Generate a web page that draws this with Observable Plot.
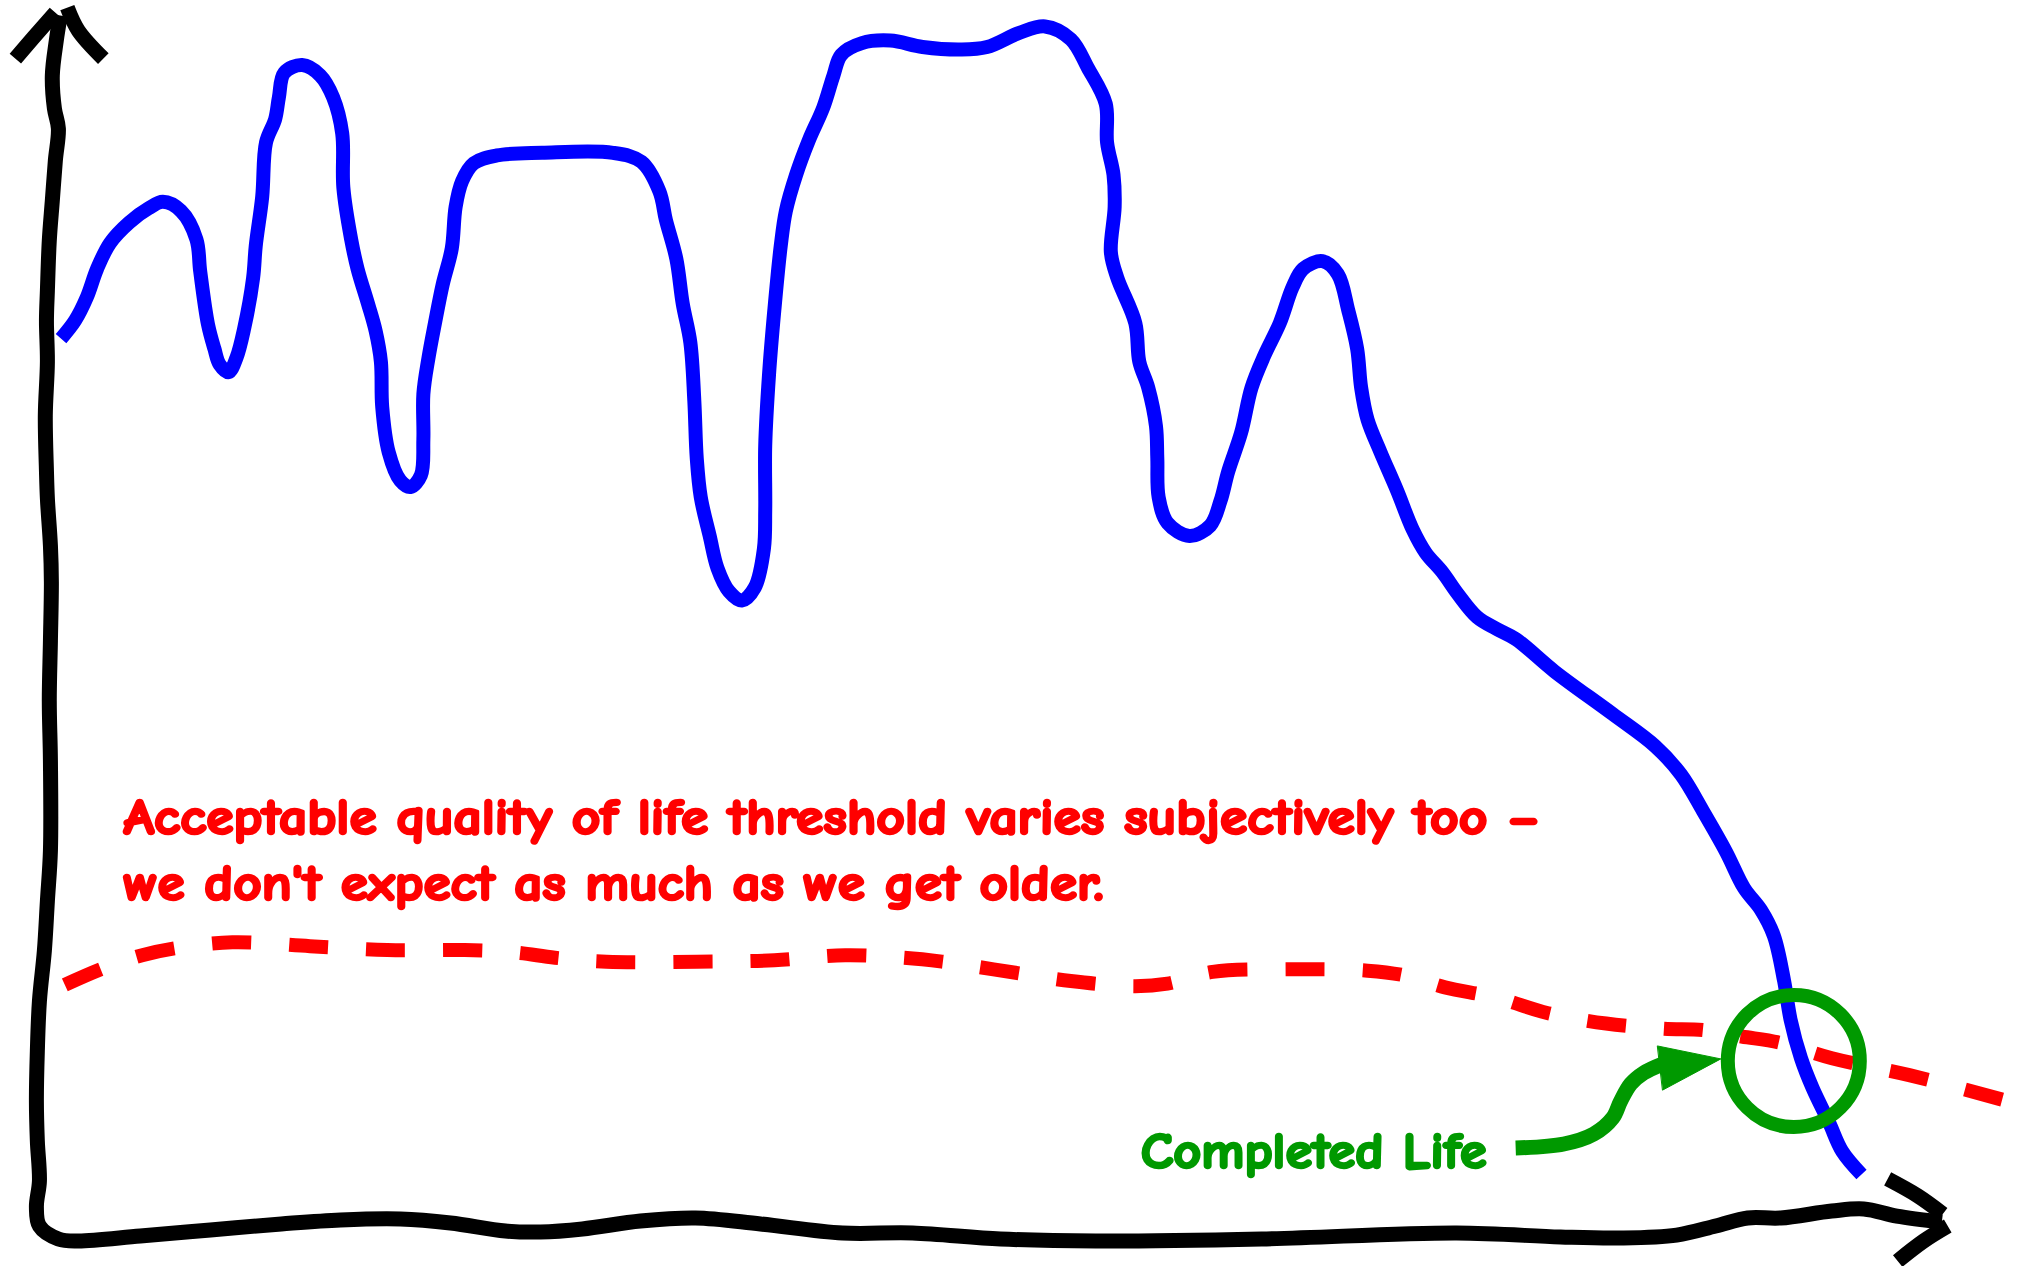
<!DOCTYPE html>
<html>
<head>
<meta charset="utf-8">
<script src="https://cdn.jsdelivr.net/npm/d3@7"></script>
<script src="https://cdn.jsdelivr.net/npm/@observablehq/plot@0.6"></script>
<style>
  html, body { margin: 0; padding: 0; background: #ffffff; }
  #chart svg { display: block; background: #ffffff; }
</style>
</head>
<body>
<div id="chart"></div>
<script>
// ---- Data (x = age, y = quality of life; both on a 0–100 sketch scale) ----

// Quality of life over a lifetime (blue)
const lifeAge = [0.82,1.56,2.18,2.72,3.40,4.42,5.44,6.19,7.14,7.96,8.16,8.57,8.91,9.18,9.66,10.07,10.48,10.95,11.09,11.43,
  11.63,12.11,12.31,12.59,13.54,14.49,15.17,15.65,15.71,16.12,16.46,17.01,17.41,17.69,17.76,18.10,18.71,19.25,19.80,19.93,
  19.93,20.20,20.54,20.95,21.43,21.63,21.97,22.59,23.81,26.19,29.93,31.43,32.38,32.72,33.27,33.61,34.01,34.22,34.35,34.56,
  35.03,35.44,36.05,36.73,37.41,37.89,37.96,37.96,38.16,38.44,38.78,39.05,39.59,40.27,41.02,41.56,41.97,43.06,44.56,46.26,
  48.30,49.66,51.36,52.72,54.08,54.97,55.92,55.99,56.33,56.39,56.19,56.53,57.48,57.69,58.16,58.57,58.64,58.71,59.18,60.34,
  61.43,61.97,62.38,63.06,63.61,64.29,65.10,65.78,66.33,67.35,68.16,68.71,69.18,69.39,69.73,70.41,71.29,72.11,72.79,73.67,
  74.49,75.51,76.53,77.55,79.59,82.65,84.90,86.26,87.41,88.64,89.59,90.48,91.16,91.70,92.04,92.59,93.20,94.08,94.76,95.78];
const lifeQuality = [73.33,74.81,76.72,79.05,81.16,82.86,84.02,84.55,83.81,81.48,78.84,74.50,72.49,71.22,70.58,71.75,74.18,78.31,80.95,84.97,
  89.42,91.32,93.12,95.13,95.77,94.92,93.12,90.16,85.71,81.48,79.05,76.19,73.97,71.43,67.72,64.02,61.69,61.16,62.12,65.08,
  68.78,71.75,74.60,77.78,80.74,84.13,86.24,87.72,88.36,88.57,88.57,87.83,85.40,83.07,79.89,76.19,73.02,68.25,63.49,60.32,
  57.14,54.50,52.59,51.85,52.91,56.08,59.26,64.55,70.37,75.66,80.95,83.81,86.77,89.63,92.28,94.92,96.61,97.57,97.78,97.25,
  97.04,97.25,98.41,98.94,97.88,95.56,92.59,89.42,86.77,84.13,80.42,78.31,74.60,71.43,69.31,66.14,63.49,60.32,58.20,57.14,
  57.99,60.00,62.43,65.61,69.31,71.96,74.60,77.57,79.05,79.68,78.62,75.66,72.49,69.31,66.67,64.02,60.85,57.67,55.77,54.18,
  52.38,50.48,49.52,48.68,46.03,42.54,39.89,37.57,34.60,31.22,28.25,26.46,24.34,20.63,17.46,14.29,11.85,8.99,6.67,4.76];

// Acceptable quality-of-life threshold (red, dashed)
const thresholdAge = [1.02,3.06,5.10,7.14,9.86,13.95,18.03,22.11,24.83,26.87,29.59,34.35,38.44,42.18,45.24,47.28,50.00,54.08,
  57.48,59.18,61.56,65.65,69.73,71.77,73.81,76.53,79.25,82.31,85.37,87.41,89.46,91.50,94.22,98.30,103.20];
const thresholdQuality = [20.32,21.69,22.75,23.39,23.81,23.49,23.17,23.17,22.96,22.54,22.22,22.22,22.33,22.75,22.54,22.22,21.59,20.63,
  20.21,20.42,21.38,21.59,21.48,21.06,20.11,19.26,17.99,17.14,16.72,16.61,16.08,15.56,14.29,12.91,10.90];

// Hand-drawn axes: y axis (top to corner) continuing into x axis (to the right tip)
const frameAge = [0.78,0.57,0.36,0.47,0.68,0.52,0.36,0.20,0.10,0.05,0.10,-0.01,0.05,0.10,0.26,0.31,0.26,0.20,0.26,0.26,
  0.10,-0.06,-0.32,-0.43,-0.48,-0.43,-0.32,-0.48,-0.32,0.68,1.69,5.00,8.70,12.44,15.56,18.72,21.36,24.26,26.11,28.32,
  31.38,34.28,37.71,42.04,45.73,50.37,55.39,64.14,74.43,79.91,83.03,86.03,88.09,89.78,91.52,94.21,95.90,97.64,100.02];
const frameQuality = [99.83,97.78,94.91,92.20,90.56,87.94,84.65,81.37,77.27,74.81,71.44,67.01,62.49,60.20,56.34,53.38,48.54,43.62,38.69,31.31,
  27.20,23.10,18.99,14.89,10.79,7.51,4.23,2.10,0.53,-0.53,-0.70,-0.29,0.21,0.70,1.03,1.11,0.78,0.12,0.04,0.29,
  0.94,1.19,0.70,-0.04,-0.04,-0.53,-0.70,-0.53,-0.04,-0.37,-0.45,-0.21,0.53,1.19,1.19,1.76,1.93,1.35,0.86];

// Arrow heads of the two axes
const arrowPart    = ["up-left","up-left","up-left","up-right","up-right","up-right",
                      "right-upper","right-upper","right-upper","right-lower","right-lower","right-lower"];
const arrowAge     = [-1.59,-0.64,0.52, 1.15,1.73,3.05, 97.16,98.75,100.07, 100.33,99.06,97.69];
const arrowQuality = [96.30,98.02,100.07, 100.48,98.60,96.30, 4.39,3.00,1.52, 0.53,-0.70,-2.34];

// "Completed Life" annotation: pointer shaft, pointer head, circle
const pointerAge = [77.54,80.08,81.66,82.66,83.08,83.61,84.29,85.30];
const pointerQuality = [6.93,7.26,8.08,9.40,10.79,12.19,13.09,13.83];
const pointerHeadAge = [85.03,88.36,85.30];
const pointerHeadQuality = [15.30,14.24,11.69];
const circleAge = [92.21];
const circleQuality = [14.07];

// Texts
const noteLines = ["Acceptable quality of life threshold varies subjectively too \u2013",
                   "we don't expect as much as we get older."];
const noteAge = [4.11, 4.11];
const noteEndAge = [78.91, 55.81];
const noteQuality = [32.70, 27.29];
const labelText = ["Completed Life"];
const labelAge = [57.76];
const labelEndAge = [76.01];
const labelQuality = [5.29];

// ---- Build tables ----
const zip = (xs, ys, extra = {}) => xs.map((a, i) => ({age: a, quality: ys[i], ...Object.fromEntries(Object.entries(extra).map(([k, v]) => [k, v[i]]))}));
const life = zip(lifeAge, lifeQuality);
const threshold = zip(thresholdAge, thresholdQuality);
const frame = zip(frameAge, frameQuality);
const arrows = zip(arrowAge, arrowQuality, {part: arrowPart});
const pointer = zip(pointerAge, pointerQuality);
const pointerHead = zip(pointerHeadAge, pointerHeadQuality);
const circle = zip(circleAge, circleQuality);
const notes = zip(noteAge, noteQuality, {text: noteLines, end: noteEndAge});
const labels = zip(labelAge, labelQuality, {text: labelText, end: labelEndAge});

const RED = "#ff0000", BLUE = "#0000ff", GREEN = "#009900", BLACK = "#000000";
const FONT = "'Comic Sans MS', 'Comic Neue', 'Humor Sans', Lato, sans-serif";

const chart = Plot.plot({
  width: 2022,
  height: 1266,
  marginLeft: 45,
  marginRight: 81,
  marginTop: 13,
  marginBottom: 34,
  x: {domain: [0, 100], axis: null},
  y: {domain: [0, 100], axis: null},
  style: {background: "#ffffff"},
  marks: [
    Plot.line(frame, {x: "age", y: "quality", stroke: BLACK, strokeWidth: 15, curve: "catmull-rom", strokeLinecap: "butt"}),
    Plot.line(arrows, {x: "age", y: "quality", z: "part", stroke: BLACK, strokeWidth: 15, curve: "catmull-rom", strokeLinecap: "butt"}),
    Plot.line(threshold, {x: "age", y: "quality", stroke: RED, strokeWidth: 14, strokeDasharray: "39,38", curve: "catmull-rom", strokeLinecap: "butt"}),
    Plot.line(life, {x: "age", y: "quality", stroke: BLUE, strokeWidth: 14, curve: "catmull-rom", strokeLinecap: "butt"}),
    Plot.dot(circle, {x: "age", y: "quality", r: 66, stroke: GREEN, strokeWidth: 14, fill: "none"}),
    Plot.line(pointer, {x: "age", y: "quality", stroke: GREEN, strokeWidth: 15, curve: "catmull-rom", strokeLinecap: "butt"}),
    Plot.line(pointerHead, {x: "age", y: "quality", stroke: GREEN, fill: GREEN, strokeWidth: 1, curve: "linear-closed"}),
    Plot.text(notes, {x: "age", y: "quality", text: "text", fill: RED, stroke: RED, strokeWidth: 2.6, fontSize: 51, fontWeight: 700, fontFamily: FONT, textAnchor: "start", lineAnchor: "bottom"}),
    Plot.text(labels, {x: "age", y: "quality", text: "text", fill: GREEN, stroke: GREEN, strokeWidth: 2.6, fontSize: 51, fontWeight: 700, fontFamily: FONT, textAnchor: "start", lineAnchor: "bottom"})
  ]
});

// Fit each text run to the span it covers in the sketch (start age to end age, via the x scale)
const xs = chart.scale("x");
const runs = [...notes, ...labels];
d3.select(chart).selectAll('g[aria-label="text"] text').each(function(d, i) {
  const r = runs[i];
  if (!r) return;
  this.setAttribute("textLength", xs.apply(r.end) - xs.apply(r.age));
  this.setAttribute("lengthAdjust", "spacingAndGlyphs");
});

document.getElementById("chart").append(chart);
</script>
</body>
</html>
